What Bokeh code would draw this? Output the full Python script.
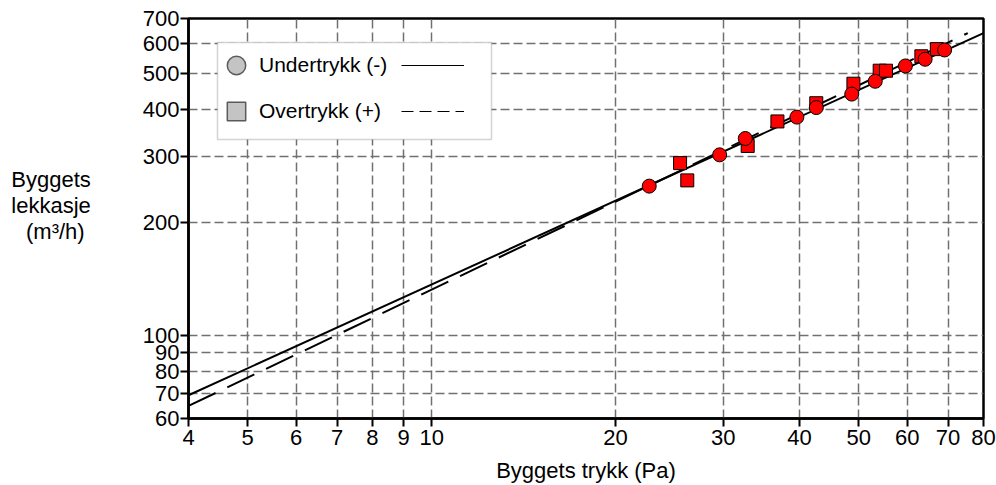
from bokeh.plotting import figure
from bokeh.models import (Range1d, FixedTicker, BoxAnnotation, Legend,
                          LegendItem, NumeralTickFormatter)
from bokeh.embed import file_html
from bokeh.resources import INLINE

# ---- data -------------------------------------------------------------
x_ticks = [4, 5, 6, 7, 8, 9, 10, 20, 30, 40, 50, 60, 70, 80]
x_tick_labels = ["4", "5", "6", "7", "8", "9", "10", "20", "30", "40", "50", "60", "70", "80"]
y_ticks = [60, 70, 80, 90, 100, 200, 300, 400, 500, 600, 700]
y_tick_labels = ["60", "70", "80", "90", "100", "200", "300", "400", "500", "600", "700"]

# Undertrykk (-) : circles
under_p = [22.7, 29.6, 32.6, 39.6, 42.6, 48.7, 53.2, 59.6, 64.2, 69.1]
under_v = [250, 303, 335, 382, 405, 440, 476, 523, 545, 577]
# Overtrykk (+) : squares
over_p = [25.5, 26.2, 32.9, 36.8, 42.6, 49.0, 54.1, 55.4, 63.3, 67.1]
over_v = [288, 259, 320, 372, 416, 469, 508, 508, 555, 580]

# fitted power-law lines (straight on log-log), end points
fit_under_p = [4, 80]
fit_under_v = [69.2, 640]
fit_over_p = [4, 75.4]
fit_over_v = [64.8, 640]

legend_labels = ["Undertrykk (-)", "Overtrykk (+)"]
x_title = "Byggets trykk (Pa)"
y_title = "Byggets\nlekkasje\n(m³/h) \n"

FONT = "Liberation Sans"

# ---- figure -----------------------------------------------------------
p = figure(width=996, height=485, x_axis_type="log", y_axis_type="log",
           x_range=Range1d(4, 80), y_range=Range1d(60, 700),
           output_backend="svg", toolbar_location=None,
           min_border_left=188, min_border_right=13,
           min_border_top=18, min_border_bottom=64)
p.background_fill_color = "white"
p.border_fill_color = "white"
p.outline_line_color = "black"
p.outline_line_width = 2.5

for ax, ticks, labels in ((p.xaxis[0], x_ticks, x_tick_labels),
                          (p.yaxis[0], y_ticks, y_tick_labels)):
    ax.ticker = FixedTicker(ticks=ticks, minor_ticks=[])
    ax.formatter = NumeralTickFormatter(format="0")
    ax.major_label_overrides = {t: l for t, l in zip(ticks, labels)}
    ax.axis_line_color = "black"
    ax.axis_line_width = 2.5
    ax.major_tick_line_color = "black"
    ax.major_tick_line_width = 2
    ax.major_tick_in = 0
    ax.major_tick_out = 8
    ax.minor_tick_line_color = None
    ax.major_label_text_font = FONT
    ax.major_label_text_font_size = "22px"
    ax.major_label_text_color = "black"
    ax.axis_label_text_font = FONT
    ax.axis_label_text_font_size = "22px"
    ax.axis_label_text_font_style = "normal"
    ax.axis_label_text_color = "black"
p.xaxis[0].major_label_standoff = 3
p.yaxis[0].major_label_standoff = 1
p.xaxis[0].axis_label = x_title
p.xaxis[0].axis_label_standoff = 10
p.yaxis[0].axis_label = y_title
p.yaxis[0].axis_label_orientation = "horizontal"
p.yaxis[0].axis_label_text_align = "center"
p.yaxis[0].axis_label_text_line_height = 1.05
p.yaxis[0].axis_label_standoff = 49

p.xgrid[0].ticker = FixedTicker(ticks=x_ticks[1:-1], minor_ticks=[])
p.ygrid[0].ticker = FixedTicker(ticks=y_ticks[1:-1], minor_ticks=[])
for g in (p.xgrid[0], p.ygrid[0]):
    g.grid_line_color = "#707070"
    g.grid_line_width = 1.5
    g.grid_line_dash = "9 4"

# fit lines
p.line(fit_under_p, fit_under_v, line_color="black", line_width=2)
p.line(fit_over_p, fit_over_v, line_color="black", line_width=2, line_dash="30 13")

# data markers
p.scatter(over_p, over_v, marker="square", size=13, fill_color="#ff0000",
          line_color="black", line_width=1)
p.scatter(under_p, under_v, marker="circle", size=14, fill_color="#ff0000",
          line_color="black", line_width=1)

# ---- legend -----------------------------------------------------------
box = BoxAnnotation(left=29, right=303, top=376, bottom=279,
                    left_units="screen", right_units="screen",
                    top_units="screen", bottom_units="screen",
                    fill_color="white", fill_alpha=1.0,
                    line_color="#707070", line_width=1.5)
p.add_layout(box)

# hidden proxies that only give the legend its sample styles
leg_circ = p.scatter(under_p, under_v, marker="circle", fill_color="#c4c4c4",
                     line_color="#5a5a5a", line_width=1.5, visible=False)
leg_sq = p.scatter(over_p, over_v, marker="square", fill_color="#c4c4c4",
                   line_color="#5a5a5a", line_width=1.5, visible=False)
leg_solid = p.line(fit_under_p, fit_under_v, line_color="black",
                   line_width=1.2, visible=False)
leg_dash = p.line(fit_over_p, fit_over_v, line_color="black", line_width=1.2,
                  line_dash="12 6", visible=False)

legA = Legend(items=[LegendItem(label=legend_labels[0], renderers=[leg_circ]),
                     LegendItem(label=legend_labels[1], renderers=[leg_sq])],
              location=(25, 284), padding=0, margin=0, spacing=0,
              glyph_width=46, glyph_height=46, label_standoff=0,
              border_line_alpha=0, background_fill_alpha=0,
              inactive_fill_alpha=0,
              label_text_font=FONT, label_text_font_size="21px",
              label_text_color="black")
legB = Legend(items=[LegendItem(label=" ", renderers=[leg_solid]),
                     LegendItem(label=" ", renderers=[leg_dash])],
              location=(213, 284), padding=0, margin=0, spacing=0,
              glyph_width=63, glyph_height=46, label_standoff=0,
              border_line_alpha=0, background_fill_alpha=0,
              inactive_fill_alpha=0,
              label_text_font=FONT, label_text_font_size="21px")
p.add_layout(legA)
p.add_layout(legB)

open("out.html", "w").write(file_html(p, INLINE))
